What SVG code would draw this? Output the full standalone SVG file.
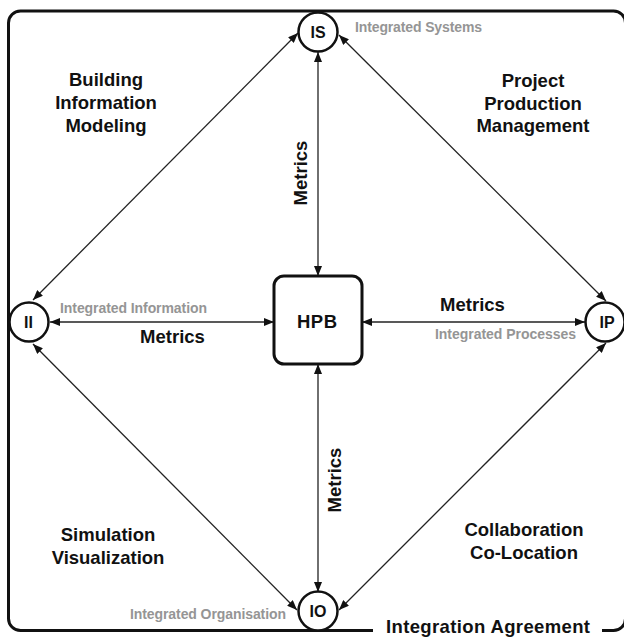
<svg xmlns="http://www.w3.org/2000/svg" width="624" height="639" viewBox="0 0 624 639">
<defs>
<marker id="ah" markerUnits="userSpaceOnUse" markerWidth="10" markerHeight="8" refX="10" refY="4" orient="auto-start-reverse" viewBox="0 0 10 8">
<path d="M0,0 L10,4 L0,8 z" fill="#111"/>
</marker>
<style>
.frame{fill:none;stroke:#111;stroke-width:3;}
.c{fill:#fff;stroke:#111;stroke-width:2.5;}
.box{fill:#fff;stroke:#111;stroke-width:3;}
.ln{stroke:#222;stroke-width:1.3;fill:none;marker-start:url(#ah);marker-end:url(#ah);}
.b{font-family:"Liberation Sans",Arial,sans-serif;font-weight:bold;font-size:18.5px;fill:#111;text-anchor:middle;}
.n{font-family:"Liberation Sans",Arial,sans-serif;font-weight:bold;font-size:16px;fill:#111;text-anchor:middle;}
.g{font-family:"Liberation Sans",Arial,sans-serif;font-weight:bold;font-size:14px;fill:#959595;}
</style>
</defs>
<rect width="624" height="639" fill="#fff"/>
<g id="frame">
<path class="frame" d="M373,630.5 L20.5,630.5 A12,12 0 0 1 8.5,618.5 L8.5,23 A12,12 0 0 1 20.5,11 L613.5,11 A12,12 0 0 1 625.5,23 L625.5,618.5 A12,12 0 0 1 613.5,630.5 L602,630.5"/>
<text class="b" x="386" y="633" style="text-anchor:start" textLength="204" lengthAdjust="spacing">Integration Agreement</text>
</g>
<g id="connectors">
<line class="ln" x1="318" y1="52" x2="318" y2="276"/>
<line class="ln" x1="318" y1="364" x2="318" y2="592"/>
<line class="ln" x1="50" y1="322" x2="274" y2="322"/>
<line class="ln" x1="362" y1="322" x2="585" y2="322"/>
<line class="ln" x1="33" y1="300" x2="298" y2="33"/>
<line class="ln" x1="339" y1="35" x2="606" y2="301"/>
<line class="ln" x1="33" y1="344" x2="297" y2="610"/>
<line class="ln" x1="606" y1="343" x2="339" y2="610"/>
</g>
<g id="IS">
<circle class="c" cx="318" cy="32" r="19.5"/>
<text class="n" x="318" y="38">IS</text>
<text class="g" x="355" y="32" textLength="127" lengthAdjust="spacing">Integrated Systems</text>
</g>
<g id="II">
<circle class="c" cx="29" cy="322" r="19.5"/>
<text class="n" x="28.5" y="328">II</text>
<text class="g" x="60" y="313" textLength="147" lengthAdjust="spacing">Integrated Information</text>
</g>
<g id="IP">
<circle class="c" cx="605" cy="322" r="19.5"/>
<text class="n" x="607" y="328">IP</text>
<text class="g" x="435" y="339" textLength="141" lengthAdjust="spacing">Integrated Processes</text>
</g>
<g id="IO">
<circle class="c" cx="318" cy="611" r="19.5"/>
<text class="n" x="318" y="617">IO</text>
<text class="g" x="130" y="619" textLength="156" lengthAdjust="spacing">Integrated Organisation</text>
</g>
<g id="HPB">
<rect class="box" x="274" y="276" width="88" height="88" rx="10"/>
<text class="b" x="317" y="328" textLength="40" lengthAdjust="spacing">HPB</text>
</g>
<g id="labels">
<text class="b" x="106" y="86">Building</text>
<text class="b" x="106" y="109">Information</text>
<text class="b" x="106" y="132">Modeling</text>
<text class="b" x="533" y="87">Project</text>
<text class="b" x="533" y="110">Production</text>
<text class="b" x="533" y="132">Management</text>
<text class="b" x="108" y="541">Simulation</text>
<text class="b" x="108" y="564">Visualization</text>
<text class="b" x="524" y="536">Collaboration</text>
<text class="b" x="524" y="559">Co-Location</text>
<text class="b" x="172.5" y="343">Metrics</text>
<text class="b" x="472.5" y="311">Metrics</text>
<text class="b" transform="translate(307,173) rotate(-90)" x="0" y="0">Metrics</text>
<text class="b" transform="translate(341,480) rotate(-90)" x="0" y="0">Metrics</text>
</g>
</svg>
